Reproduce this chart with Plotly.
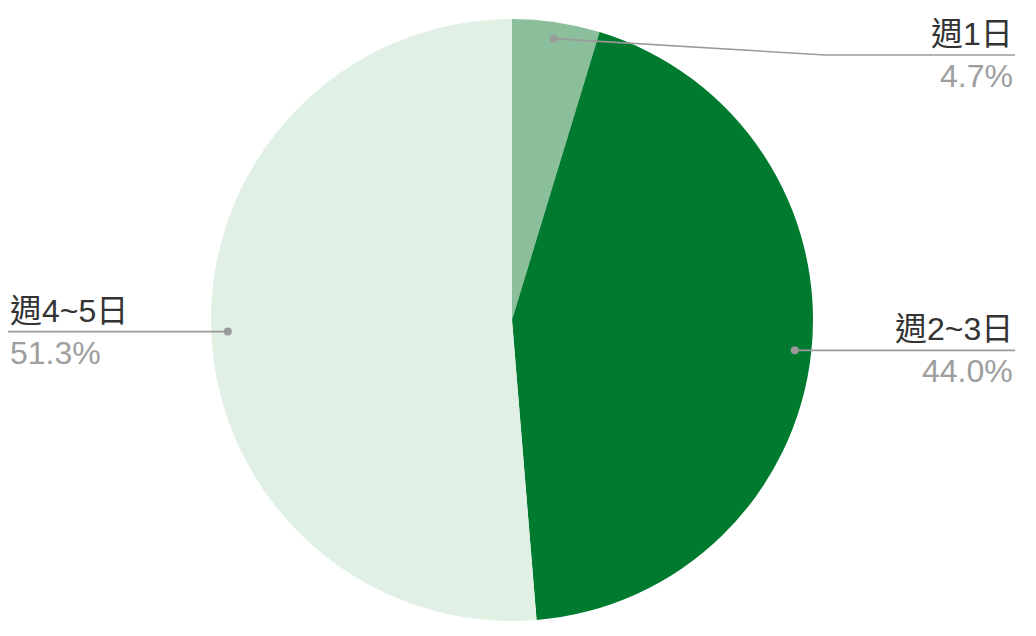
import math
import plotly.graph_objects as go

labels = ["週1日", "週2~3日", "週4~5日"]
values = [4.7, 44.0, 51.3]
pct_text = ["4.7%", "44.0%", "51.3%"]
colors = ["#8bbf9c", "#007a2f", "#e0f0e5"]

W, H = 1036, 636
OFF = 8  # page body margin
CX, CY, R = 512 - OFF, 320 - OFF, 301

fig = go.Figure(go.Pie(
    labels=labels, values=values, sort=False, direction="clockwise", rotation=0,
    marker=dict(colors=colors, line=dict(width=0)),
    textinfo="none", hoverinfo="label+percent", showlegend=False,
    domain=dict(x=[(CX - R) / W, (CX + R) / W], y=[1 - (CY + R) / H, 1 - (CY - R) / H]),
))

def px(x):
    return x / W

def py(y):
    return 1 - y / H

shapes = []
annotations = []
total = sum(values)
cum = 0.0
FONT = "Liberation Sans, Noto Sans CJK TC, sans-serif"
for lab, v, pt in zip(labels, values, pct_text):
    mid = (cum + v / 2) / total * 2 * math.pi
    cum += v
    dx, dy = math.sin(mid), -math.cos(mid)
    dot_x = CX + 0.945 * R * dx
    dot_y = CY + 0.945 * R * dy
    line_y = max(dot_y, 55 - OFF)
    right = dx > 0
    elbow_x = (825 if right else 211) - OFF
    end_x = (1015 if right else 8) - OFF
    path = f"M {px(dot_x)},{py(dot_y)} L {px(elbow_x)},{py(line_y)} L {px(end_x)},{py(line_y)}"
    shapes.append(dict(type="path", xref="paper", yref="paper", path=path,
                       line=dict(color="#9a9a9a", width=1.6)))
    shapes.append(dict(type="circle", xref="paper", yref="paper",
                       x0=px(dot_x - 4), x1=px(dot_x + 4), y0=py(dot_y + 4), y1=py(dot_y - 4),
                       fillcolor="#9a9a9a", line=dict(width=0)))
    anchor = "right" if right else "left"
    annotations.append(dict(x=px(end_x), y=py(line_y - 1), xref="paper", yref="paper",
                            text=lab, showarrow=False, xanchor=anchor, yanchor="bottom",
                            font=dict(size=32, color="#333333", family=FONT)))
    annotations.append(dict(x=px(end_x), y=py(line_y + 1), xref="paper", yref="paper",
                            text=pt, showarrow=False, xanchor=anchor, yanchor="top",
                            font=dict(size=32, color="#9e9e9e", family=FONT)))

fig.update_layout(
    width=W, height=H, margin=dict(l=0, r=0, t=0, b=0),
    paper_bgcolor="white", plot_bgcolor="white",
    shapes=shapes, annotations=annotations,
)
fig.write_html("out.html")
